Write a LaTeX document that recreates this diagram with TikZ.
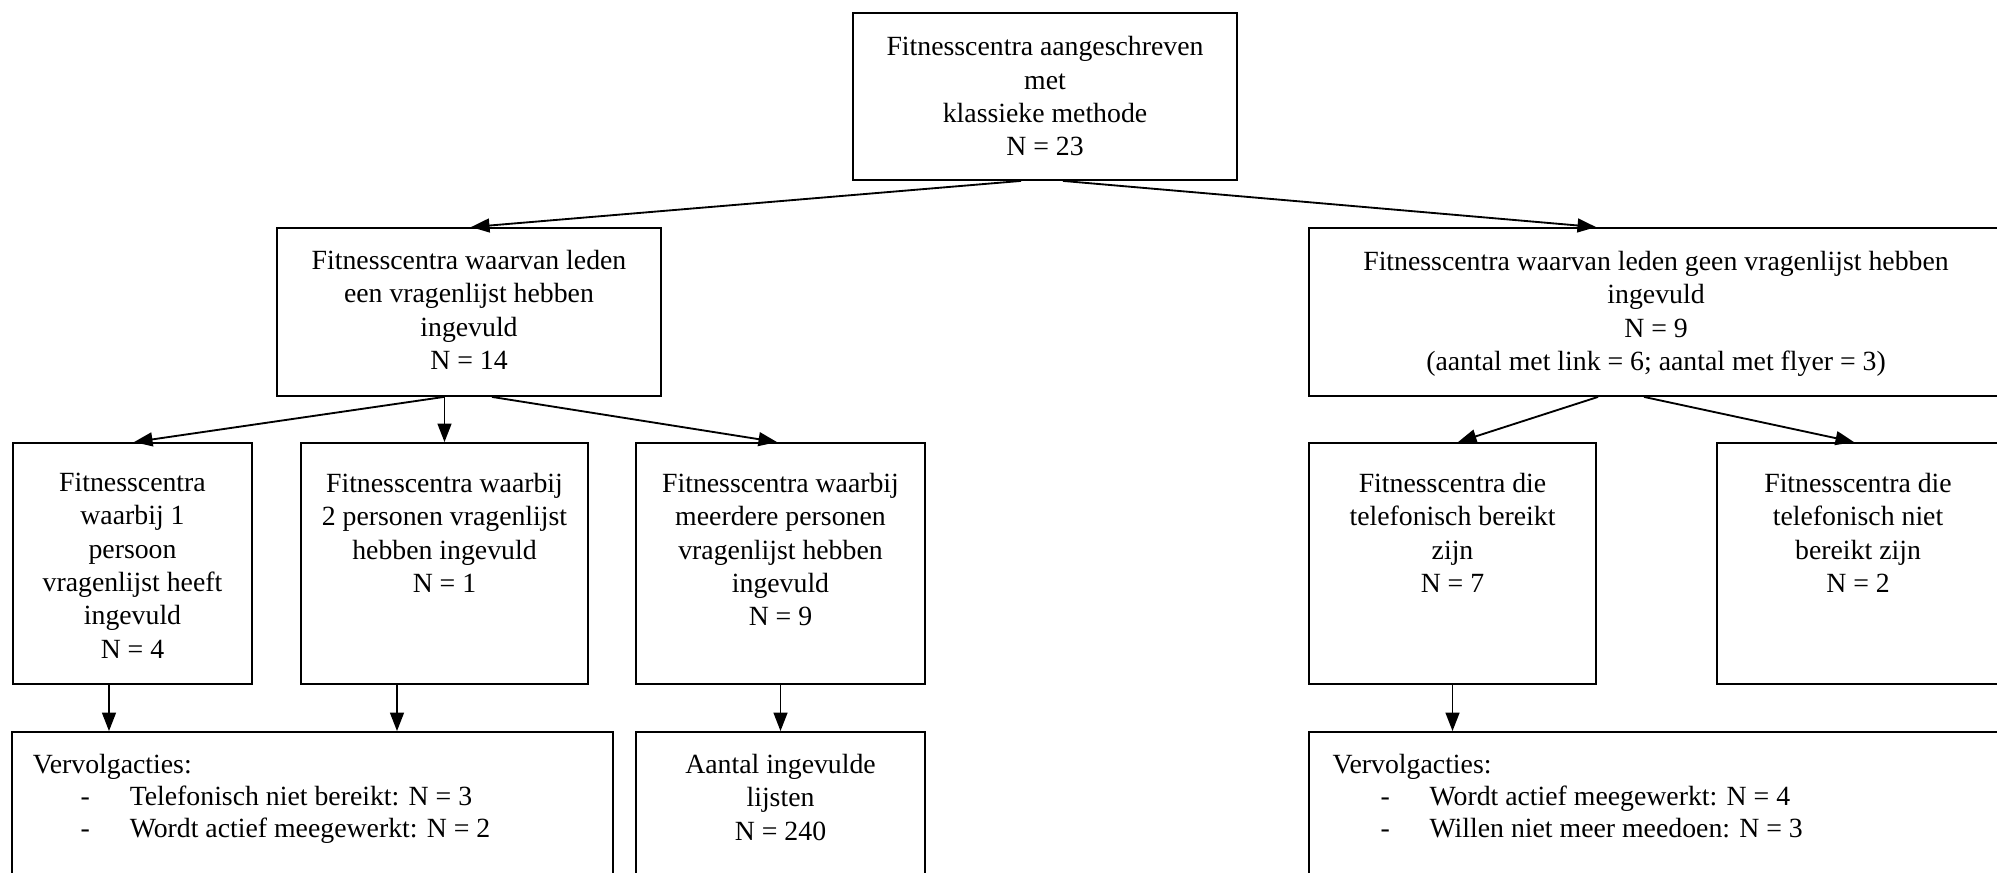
\documentclass[tikz,border=0pt]{standalone}
\usepackage{fontspec}
\setmainfont{Liberation Serif}
\usetikzlibrary{positioning,arrows.meta,calc,fit}

% dash item of a follow-up list
\newcommand{\vitem}[1]{\makebox[41.9pt][l]{\hspace*{20.7pt}-}#1}

\begin{document}
\begin{tikzpicture}[x=0.432pt,y=-0.432pt,
    box/.style={draw, line width=0.8pt, inner sep=0pt},
    txt/.style={inner sep=0pt, align=center, font=\fontsize{12}{14.4}\selectfont},
    lst/.style={inner sep=0pt, align=left, font=\fontsize{12}{13.8}\selectfont},
    arr/.style={-{Triangle[length=8pt,width=6pt]}, line width=0.8pt}]
    \useasboundingbox (0,0) rectangle (1997,873);
    \clip (0,0) rectangle (1997,873);

    % Top row
    \node[box, fit={(853,13) (1237,180)}] (top) {};
    \node[box, fit={(277,228) (661,396)}] (leden) {};
    \node[box, fit={(1309,228) (2003,396)}] (geen) {};

    \node[txt] (top-t) at (top)
        {Fitnesscentra aangeschreven\\met\\klassieke methode\\N = 23};
    \node[txt] (leden-t) at ($(leden)+(0,-2)$)
        {Fitnesscentra waarvan leden\\een vragenlijst hebben\\ingevuld\\N = 14};
    \node[txt] (geen-t) at ($(geen)+(0,2)$)
        {Fitnesscentra waarvan leden geen vragenlijst hebben\\ingevuld\\N = 9\\(aantal met link = 6; aantal met flyer = 3)};

    % Middle row (text sits at the top of each box)
    \node[box, fit={(13,443) (252,684)}] (een) {};
    \node[box, fit={(301,443) (588,684)}] (twee) {};
    \node[box, fit={(636,443) (925,684)}] (meer) {};
    \node[box, fit={(1309,443) (1596,684)}] (bereikt) {};
    \node[box, fit={(1717,443) (1999,684)}] (nietber) {};

    \node[txt, below=13.2pt of een.north] (een-t)
        {Fitnesscentra\\waarbij 1\\persoon\\vragenlijst heeft\\ingevuld\\N = 4};
    \node[txt, below=13.2pt of twee.north] (twee-t)
        {Fitnesscentra waarbij\\2 personen vragenlijst\\hebben ingevuld\\N = 1};
    \node[txt, below=13.2pt of meer.north] (meer-t)
        {Fitnesscentra waarbij\\meerdere personen\\vragenlijst hebben\\ingevuld\\N = 9};
    \node[txt, below=13.2pt of bereikt.north] (bereikt-t)
        {Fitnesscentra die\\telefonisch bereikt\\zijn\\N = 7};
    \node[txt, below=13.2pt of nietber.north] (nietber-t)
        {Fitnesscentra die\\telefonisch niet\\bereikt zijn\\N = 2};

    % Bottom row
    \node[box, fit={(12,732) (613,900)}] (vervl) {};
    \node[box, fit={(636,732) (925,900)}] (aantal) {};
    \node[box, fit={(1309,732) (2003,900)}] (vervr) {};

    \node[lst, below right=9.8pt and 9.2pt of vervl.north west] (vervl-t)
        {Vervolgacties:\\\vitem{Telefonisch niet bereikt: N = 3}\\\vitem{Wordt actief meegewerkt: N = 2}};
    \node[txt, below=9.8pt of aantal.north] (aantal-t)
        {Aantal ingevulde\\lijsten\\N = 240};
    \node[lst, below right=9.8pt and 10.4pt of vervr.north west] (vervr-t)
        {Vervolgacties:\\\vitem{Wordt actief meegewerkt: N = 4}\\\vitem{Willen niet meer meedoen: N = 3}};

    % Connectors
    \draw[arr] ($(top.south)+(-24,0)$) -- ($(leden.north)+(2,0)$);
    \draw[arr] ($(top.south)+(18,0)$) -- ($(geen.north)+(-60,0)$);

    \draw[arr] ($(leden.south)+(-25,0)$) -- ($(een.north)+(1.5,0)$);
    \draw[arr] (twee.north |- leden.south) -- (twee.north);
    \draw[arr] ($(leden.south)+(23,0)$) -- ($(meer.north)+(-3.5,0)$);

    \draw[arr] ($(geen.south)+(-58,0)$) -- ($(bereikt.north)+(5.5,0)$);
    \draw[arr] ($(geen.south)+(-12,0)$) -- ($(nietber.north)+(-4,0)$);

    \draw[arr] ($(een.south)+(-23.5,0)$) coordinate (a1) -- (a1 |- vervl.north);
    \draw[arr] ($(twee.south)+(-47.5,0)$) coordinate (a2) -- (a2 |- vervl.north);
    \draw[arr] (meer.south) -- (aantal.north);
    \draw[arr] (bereikt.south) -- (bereikt.south |- vervr.north);
\end{tikzpicture}
\end{document}
